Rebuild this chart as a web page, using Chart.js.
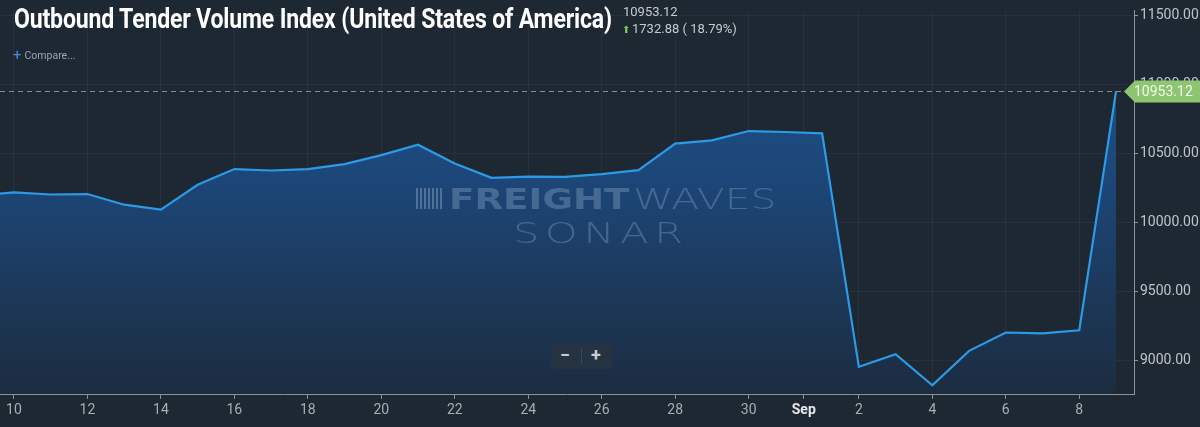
<!DOCTYPE html>
<html>
<head>
<meta charset="utf-8">
<script src="https://cdn.jsdelivr.net/npm/chart.js@4"></script>
<style>
html,body{margin:0;padding:0;background:#1e2833;width:1200px;height:427px;overflow:hidden;font-family:Roboto,"Noto Sans",sans-serif;}
#wrap{position:relative;width:1200px;height:427px;}
canvas{position:absolute;left:0;top:0;}
.ov{position:absolute;white-space:nowrap;pointer-events:none;}
#title{left:14px;top:3px;font-weight:700;font-size:27px;color:#ffffff;transform-origin:0 0;letter-spacing:-0.2px;}
#last{left:623px;top:4px;font-size:13px;color:#c6cace;}
#chg{left:622px;top:21px;font-size:13px;color:#c6cace;}
#chg .ar{color:#7fc65a;font-size:10px;margin-right:2px;}
#cmp{left:13px;top:45px;font-size:10.5px;color:#9ba3ab;}
#cmp .p{color:#3f8fe4;font-size:15px;font-weight:400;margin-right:3px;position:relative;top:1px;}
.wm{font-family:"DejaVu Sans",sans-serif;font-size:29px;line-height:29px;color:rgba(150,178,208,0.34);transform-origin:0 0;}
#wmF{left:449px;top:184.5px;font-weight:900;}
#wmW{left:633px;top:184.5px;font-weight:200;}
#wmS{left:513px;top:218.5px;font-weight:200;letter-spacing:4px;}
#wmI{left:416px;top:188px;width:26px;height:21px;
 background:repeating-linear-gradient(90deg,rgba(150,178,208,0.42) 0 2px,transparent 2px 4px);}
#zoom{left:551px;top:343px;width:61px;height:26px;background:#253241;border-radius:2px;}
#zoom span{position:absolute;color:#c8ccd0;font-weight:700;font-size:18px;top:1px;}
#zoom .d{position:absolute;left:30px;top:5px;width:1px;height:16px;background:#3a4756;}
</style>
</head>
<body>
<div id="wrap">
<canvas id="c" width="1200" height="427"></canvas>
<div class="ov" id="title">Outbound Tender Volume Index (United States of America)</div>
<div class="ov" id="last">10953.12</div>
<div class="ov" id="chg"><span class="ar">&#11014;</span>1732.88 ( 18.79%)</div>
<div class="ov" id="cmp"><span class="p">+</span>Compare...</div>
<div class="ov" id="wmI"></div>
<div class="ov wm" id="wmF">FREIGHT</div>
<div class="ov wm" id="wmW">WAVES</div>
<div class="ov wm" id="wmS">SONAR</div>
<div class="ov" id="zoom"><span style="left:9px">&minus;</span><div class="d"></div><span style="left:40px">+</span></div>
</div>
<script>
// ---- data ----
const dates = ['2019-08-09','2019-08-10','2019-08-11','2019-08-12','2019-08-13','2019-08-14','2019-08-15',
 '2019-08-16','2019-08-17','2019-08-18','2019-08-19','2019-08-20','2019-08-21','2019-08-22','2019-08-23',
 '2019-08-24','2019-08-25','2019-08-26','2019-08-27','2019-08-28','2019-08-29','2019-08-30','2019-08-31',
 '2019-09-01','2019-09-02','2019-09-03','2019-09-04','2019-09-05','2019-09-06','2019-09-07','2019-09-08','2019-09-09'];
const values = [10196,10220,10205,10208,10131,10095,10275,
 10389,10379,10389,10425,10490,10566,10429,10326,
 10335,10333,10352,10381,10574,10598,10665,10658,
 10648,8955,9047,8821,9071,9204,9197,9220.24,10953.12];
const tickDates = ['2019-08-10','2019-08-12','2019-08-14','2019-08-16','2019-08-18','2019-08-20','2019-08-22',
 '2019-08-24','2019-08-26','2019-08-28','2019-08-30','2019-08-31T12:00','2019-09-02','2019-09-04','2019-09-06','2019-09-08'];
const tickLabels = ['10','12','14','16','18','20','22','24','26','28','30','Sep','2','4','6','8'];
const yTicks = [9000,9500,10000,10500,11000,11500];
const lastValue = 10953.12;

// day index: Aug 1 = 1
const base = Date.UTC(2019,6,31);
function dayIdx(s){
  const [d,t] = s.split('T');
  const [Y,M,D] = d.split('-').map(Number);
  let h = 0; if(t){ h = Number(t.split(':')[0]); }
  return (Date.UTC(Y,M-1,D,h) - base)/86400000;
}
const pts = dates.map((d,i)=>({x:dayIdx(d), y:values[i]}));
const xTickPos = tickDates.map(dayIdx);
const labelAt = {}; xTickPos.forEach((p,i)=>labelAt[p]=tickLabels[i]);

// fit overlay text widths
function fitW(id,w){ const e=document.getElementById(id); e.style.transform='scaleX('+(w/e.offsetWidth)+')'; }
fitW('title',598);
fitW('wmF',181);
fitW('wmW',144);
fitW('wmS',176);

const tagPlugin = {
  id:'tag',
  afterDatasetsDraw(chart){
    const ctx = chart.ctx, ys = chart.scales.y, ca = chart.chartArea;
    const y = Math.round(ys.getPixelForValue(lastValue))+0.5;
    ctx.save();
    ctx.strokeStyle = 'rgba(150,165,160,0.85)';
    ctx.lineWidth = 1;
    ctx.setLineDash([5,4]);
    ctx.beginPath(); ctx.moveTo(ca.left,y); ctx.lineTo(1126,y); ctx.stroke();
    ctx.setLineDash([]);
    ctx.fillStyle = '#8ec570';
    ctx.beginPath();
    ctx.moveTo(1124,y); ctx.lineTo(1135,y-11); ctx.lineTo(1200,y-11); ctx.lineTo(1200,y+11); ctx.lineTo(1135,y+11);
    ctx.closePath(); ctx.fill();
    ctx.fillStyle = '#f2f8ee';
    ctx.font = '14px Roboto';
    ctx.textBaseline = 'middle';
    ctx.fillText('10953.12', 1134, y+1);
    ctx.restore();
  }
};

new Chart(document.getElementById('c'), {
  type:'line',
  data:{datasets:[{
    data:pts,
    borderColor:'#2c9ae6',
    borderWidth:2.2,
    pointRadius:0,
    tension:0,
    fill:'start',
    backgroundColor:(ctx)=>{
      const ca = ctx.chart.chartArea;
      if(!ca) return 'rgba(30,80,130,0.6)';
      const g = ctx.chart.ctx.createLinearGradient(0,ca.top,0,ca.bottom);
      g.addColorStop(0,'#1f5590');
      g.addColorStop(0.45,'#1c4677');
      g.addColorStop(1,'#1c2c40');
      return g;
    }
  }]},
  options:{
    responsive:false,
    animation:false,
    events:[],
    layout:{padding:0},
    plugins:{legend:{display:false},tooltip:{enabled:false}},
    scales:{
      x:{
        type:'linear',
        min:9.62, max:40.49,
        afterBuildTicks(s){ s.ticks = xTickPos.map(v=>({value:v})); },
        afterFit(s){ s.height = 33; },
        grid:{color:'rgba(255,255,255,0.045)', tickColor:'#8b939b', tickLength:5, drawTicks:true},
        border:{color:'#8b939b', width:1},
        ticks:{
          padding:3,
          maxRotation:0, autoSkip:false,
          font:(c)=> (c.tick && labelAt[c.tick.value]==='Sep') ? {family:'Roboto',size:14,weight:'bold'} : {family:'Roboto',size:14},
          color:(c)=> (c.tick && labelAt[c.tick.value]==='Sep') ? '#e6e8ea' : '#a7adb3',
          callback:(v)=> labelAt[v] ?? ''
        }
      },
      y:{
        type:'linear',
        position:'right',
        min:8758, max:11540,
        afterBuildTicks(s){ s.ticks = yTicks.map(v=>({value:v})); },
        afterFit(s){ s.width = 66; },
        grid:{color:'rgba(255,255,255,0.045)', tickColor:'#8b939b', tickLength:4},
        border:{color:'#8b939b', width:1},
        ticks:{
          padding:2,
          font:{family:'Roboto',size:14},
          color:'#bfc4c9',
          callback:(v)=> v.toFixed(2)
        }
      }
    }
  },
  plugins:[tagPlugin]
});
</script>
</body>
</html>
